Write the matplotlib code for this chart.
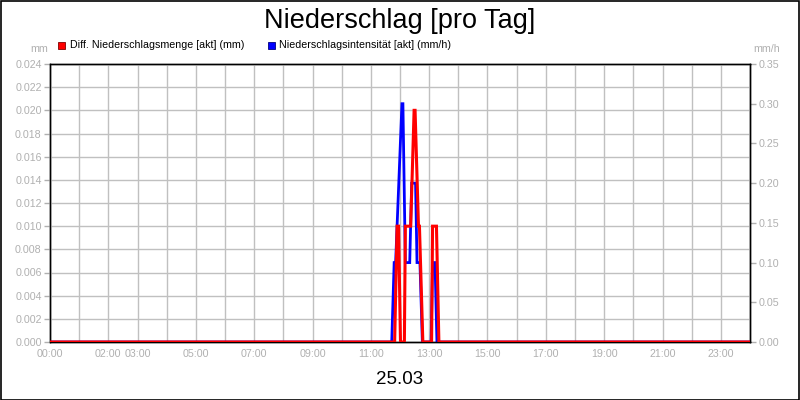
import matplotlib
matplotlib.use("Agg")
import matplotlib.pyplot as plt
from matplotlib.patches import Rectangle
from matplotlib.ticker import FixedLocator, FuncFormatter

plt.rcParams['font.family'] = ['Liberation Sans', 'DejaVu Sans']

title = "Niederschlag [pro Tag]"
date_label = "25.03"
red_label = "Diff. Niederschlagsmenge [akt] (mm)"
blue_label = "Niederschlagsintensität [akt] (mm/h)"

# Diff. Niederschlagsmenge (mm), left axis
red_times = ["00:00", "11:49", "11:54", "11:57", "12:01", "12:09", "12:11", "12:22",
             "12:29", "12:31", "12:38", "12:40", "12:47", "13:05", "13:07", "13:15",
             "13:20", "24:00"]
red_values = [0, 0, 0.010, 0.010, 0, 0, 0.010, 0.010,
              0.020, 0.020, 0.010, 0.010, 0, 0, 0.010, 0.010,
              0, 0]

# Niederschlagsintensität (mm/h), right axis
blue_times = ["00:00", "11:43", "11:48", "11:51", "12:04", "12:06", "12:11", "12:20",
              "12:24", "12:32", "12:35", "12:41", "12:46", "13:04", "13:07", "13:12",
              "13:16", "24:00"]
blue_values = [0, 0, 0.10, 0.10, 0.30, 0.30, 0.10, 0.10,
               0.20, 0.20, 0.10, 0.10, 0, 0, 0.10, 0.10,
               0, 0]

x_tick_labels = ["00:00", "02:00", "03:00", "05:00", "07:00", "09:00", "11:00",
                 "13:00", "15:00", "17:00", "19:00", "21:00", "23:00"]
left_ticks = [0.000, 0.002, 0.004, 0.006, 0.008, 0.010, 0.012, 0.014, 0.016,
              0.018, 0.020, 0.022, 0.024]
right_ticks = [0.00, 0.05, 0.10, 0.15, 0.20, 0.25, 0.30, 0.35]


def to_hours(s):
    h, m = s.split(":")
    return int(h) + int(m) / 60.0


W, H = 800, 400
fig = plt.figure(figsize=(8, 4), dpi=100)
fig.patch.set_facecolor("white")

ax = fig.add_axes([50 / W, 58 / H, 700 / W, 278 / H])
ax2 = ax.twinx()

ax.set_xlim(0, 24)
ax.set_ylim(0, 0.024)
ax2.set_ylim(0, 0.35)

grid_c = "#c0c0c0"
tick_c = "#b0b0b0"
fs = 7.7

# x axis
ax.xaxis.set_major_locator(FixedLocator(list(range(0, 25))))
lab_hours = {to_hours(t): t for t in x_tick_labels}
ax.xaxis.set_major_formatter(FuncFormatter(lambda v, p: lab_hours.get(float(v), "")))
ax.tick_params(axis="x", length=0, pad=5, labelsize=fs, labelcolor=tick_c)

# left y axis
ax.yaxis.set_major_locator(FixedLocator(left_ticks))
ax.yaxis.set_major_formatter(FuncFormatter(lambda v, p: f"{v:.3f}"))
ax.tick_params(axis="y", length=4, width=1, color=tick_c, pad=2,
               labelsize=fs, labelcolor=tick_c)

# right y axis
ax2.yaxis.set_major_locator(FixedLocator(right_ticks))
ax2.yaxis.set_major_formatter(FuncFormatter(lambda v, p: f"{v:.2f}"))
ax2.tick_params(axis="y", length=4, width=1, color=tick_c, pad=2,
                labelsize=fs, labelcolor=tick_c)

ax.grid(True, color=grid_c, lw=1)
ax.set_axisbelow(True)
for a in (ax, ax2):
    for s in a.spines.values():
        s.set_color("black")
        s.set_linewidth(1)

ax.set_zorder(ax2.get_zorder() + 1)
ax.patch.set_visible(False)

bx = [to_hours(t) for t in blue_times]
rx = [to_hours(t) for t in red_times]
ax.plot(bx, blue_values, color="#0000ff", lw=2, transform=ax2.transData,
        zorder=2, solid_joinstyle="miter")
ax.plot(rx, red_values, color="#ff0000", lw=2.2, zorder=3, solid_joinstyle="miter")

# titles / labels
fig.text(0.5, 1 - 28 / H, title, ha="center", va="baseline", fontsize=19.5, color="black")
fig.text(0.5, 1 - 380 / H, date_label, ha="center", va="center", fontsize=13.5, color="black")
fig.text(48 / W, 1 - 49 / H, "mm", ha="right", va="center", fontsize=fs, color=tick_c)
fig.text(753 / W, 1 - 49 / H, "mm/h", ha="left", va="center", fontsize=fs, color=tick_c)

# legend
fig.patches.append(Rectangle((58 / W, 1 - 49 / H), 7 / W, 7 / H, transform=fig.transFigure,
                             facecolor="#ff0000", edgecolor="#800000", lw=0.6))
fig.text(70 / W, 1 - 45 / H, red_label, ha="left", va="center", fontsize=fs, color="black")
fig.patches.append(Rectangle((268 / W, 1 - 49 / H), 7 / W, 7 / H, transform=fig.transFigure,
                             facecolor="#0000ff", edgecolor="#000080", lw=0.6))
fig.text(279 / W, 1 - 45 / H, blue_label, ha="left", va="center", fontsize=fs, color="black")

# border
fig.patches.append(Rectangle((0.5 / W, 0.5 / H), 1 - 1.5 / W, 1 - 1.5 / H, transform=fig.transFigure,
                             fill=False, edgecolor="black", lw=1.2))

fig.savefig("out.png", dpi=100)
